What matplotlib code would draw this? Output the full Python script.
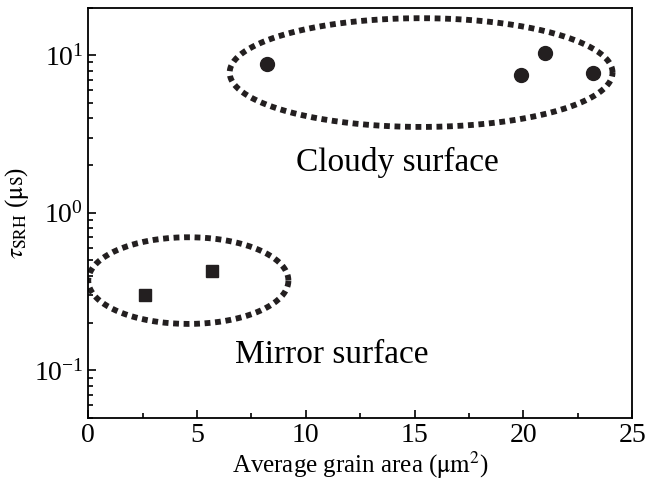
import numpy as np
import matplotlib
matplotlib.use('Agg')
import matplotlib.pyplot as plt
from matplotlib.ticker import MultipleLocator, LogLocator, NullFormatter

plt.rcParams['font.family'] = ['Liberation Serif', 'DejaVu Serif']
plt.rcParams['mathtext.fontset'] = 'stix'

# data
mirror_area = [2.6, 5.7]
mirror_tau = [0.30, 0.43]
cloudy_area = [8.2, 19.9, 21.0, 23.2]
cloudy_tau = [8.8, 7.5, 10.3, 7.7]

# grouping ellipses: centre x, centre log10(y), half width x, half height log10
mirror_ell = (4.6, -0.43, 4.6, 0.275)
cloudy_ell = (15.3, 0.89, 8.8, 0.345)

fig = plt.figure(figsize=(6.49, 4.87), dpi=100)
ax = fig.add_axes([0.136, 0.142, 0.838, 0.842])

ax.plot(mirror_area, mirror_tau, 's', color='#231f20', markersize=9)
ax.plot(cloudy_area, cloudy_tau, 'o', color='#231f20', markersize=10)

t = np.linspace(0, 2 * np.pi, 400)
for cx, cy, a, b in [mirror_ell, cloudy_ell]:
    ax.plot(cx + a * np.cos(t), 10 ** (cy + b * np.sin(t)), color='#231f20',
            linewidth=4.2, linestyle=(0, (1, 0.8)), dash_capstyle='butt')

ax.text(14.2, 2.1, 'Cloudy surface', fontsize=24, ha='center', va='center')
ax.text(11.2, 0.125, 'Mirror surface', fontsize=24, ha='center', va='center')

ax.set_yscale('log')
ax.set_xlim(0, 25)
ax.set_ylim(0.05, 20)
ax.xaxis.set_major_locator(MultipleLocator(5))
ax.xaxis.set_minor_locator(MultipleLocator(2.5))
ax.yaxis.set_major_locator(LogLocator(base=10, numticks=10))
ax.yaxis.set_minor_locator(LogLocator(base=10, subs=np.arange(2, 10), numticks=20))
ax.yaxis.set_minor_formatter(NullFormatter())
ax.tick_params(which='both', direction='in', top=False, right=False, labelsize=20, width=1.2)
ax.tick_params(which='major', length=6)
ax.tick_params(which='minor', length=3.5)
for s in ax.spines.values():
    s.set_linewidth(1.3)

ax.set_xlabel(r'Average grain area ($\mathrm{\mu m^2}$)', fontsize=18, labelpad=1)
ax.set_ylabel(r'$\tau_{\mathrm{SRH}}$ ($\mathrm{\mu s}$)', fontsize=18, labelpad=2)

fig.savefig('out.png', dpi=100)
